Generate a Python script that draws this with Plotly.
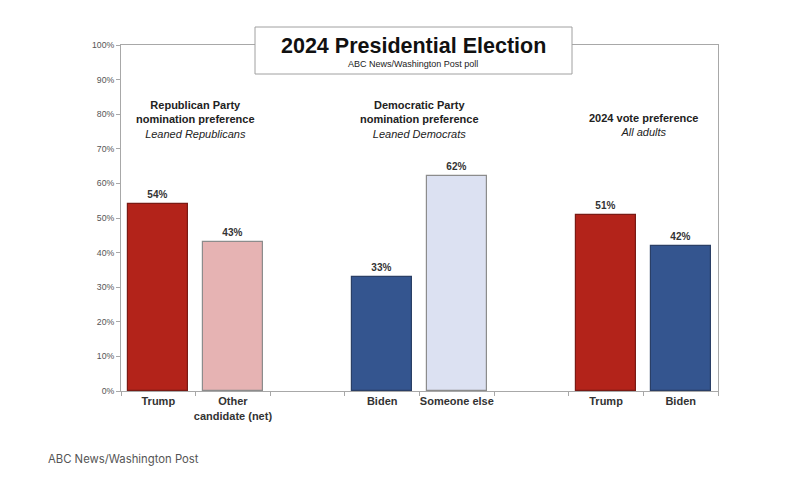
import plotly.graph_objects as go

# ---- data ----
group_titles = [
    "<b>Republican Party</b><br><b>nomination preference</b><br><i>Leaned Republicans</i>",
    "<b>Democratic Party</b><br><b>nomination preference</b><br><i>Leaned Democrats</i>",
    "<b>2024 vote preference</b><br><i>All adults</i>",
]
bar_labels = ["Trump", "Other<br>candidate (net)", "Biden", "Someone else", "Trump", "Biden"]
bar_values = [54, 43, 33, 62, 51, 42]
bar_group = [0, 0, 1, 1, 2, 2]
fill_colors = ["#B3231A", "#E6B3B3", "#34558F", "#DCE1F2", "#B3231A", "#34558F"]
line_colors = ["#7A1A14", "#8C8C8C", "#2A3F66", "#8C8C8C", "#7A1A14", "#2A3F66"]
y_ticks = [0, 10, 20, 30, 40, 50, 60, 70, 80, 90, 100]

# slot positions: two bars per group plus a spacer slot between groups
positions = []
count_in_group = {}
for g in bar_group:
    k = count_in_group.get(g, 0)
    positions.append(g * 3 + k)
    count_in_group[g] = k + 1
n_slots = 3 * len(group_titles) - 1

FONT = "Liberation Sans, Arial, sans-serif"

fig = go.Figure()
fig.add_trace(go.Bar(
    x=positions,
    y=bar_values,
    width=0.8,
    marker=dict(color=fill_colors, line=dict(color=line_colors, width=1.2)),
    text=[f"<b>{v}%</b>" for v in bar_values],
    textposition="outside",
    textfont=dict(family=FONT, size=10, color="#333333"),
    cliponaxis=False,
    hoverinfo="skip",
))

# group headings (centered on each group's pair of bars)
for gi, title in enumerate(group_titles):
    nlines = title.count("<br>") + 1
    fig.add_annotation(
        x=gi * 3 + 0.5, y=(85.0 if nlines == 3 else 81.3),
        xref="x", yref="y", text=title, showarrow=False,
        font=dict(family=FONT, size=11, color="#222222"),
        align="center", yanchor="top",
    )

# title box
fig.add_shape(type="rect", xref="paper", yref="paper",
              x0=(255 - 121) / 597, x1=(572 - 121) / 597,
              y0=(391 - 74) / 346, y1=(391 - 27) / 346,
              line=dict(color="#A0A0A0", width=1), fillcolor="white", layer="above")
fig.add_annotation(xref="paper", yref="paper", x=(413 - 121) / 597, y=(391 - 46) / 346,
                   xanchor="center", yanchor="middle",
                   text="<b>2024 Presidential Election</b>", showarrow=False,
                   font=dict(family=FONT, size=21.5, color="#111111"))
fig.add_annotation(xref="paper", yref="paper", x=(413 - 121) / 597, y=(391 - 64) / 346,
                   xanchor="center", yanchor="middle",
                   text="ABC News/Washington Post poll", showarrow=False,
                   font=dict(family=FONT, size=9, color="#222222"))

# footer source
fig.add_annotation(xref="paper", yref="paper", x=(46 - 121) / 597, y=(391 - 459) / 346,
                   xanchor="left", yanchor="middle", text="ABC News/Washington Post",
                   showarrow=False, font=dict(family="Inter, Noto Sans, sans-serif", size=11.3, color="#555555"))

fig.update_layout(
    width=800, height=487,
    margin=dict(l=121, r=82, t=45, b=96),
    paper_bgcolor="white", plot_bgcolor="white",
    showlegend=False,
    bargap=0,
    xaxis=dict(
        range=[-0.5, n_slots - 0.5],
        tickvals=positions,
        ticktext=[f"<b>{t}</b>" for t in bar_labels],
        tickfont=dict(family=FONT, size=11, color="#333333"),
        ticks="", showgrid=False, zeroline=False,
        showline=True, linecolor="#A8A8A8", linewidth=1, mirror=True,
        minor=dict(tickvals=[i - 0.5 for i in range(n_slots + 1)], ticks="outside",
                   ticklen=4, tickcolor="#A8A8A8", showgrid=False),
        fixedrange=True,
    ),
    yaxis=dict(
        range=[0, 100],
        tickvals=y_ticks,
        ticktext=[f"{v}%" for v in y_ticks],
        tickfont=dict(family=FONT, size=8.7, color="#555555"),
        ticks="outside", ticklen=4, tickcolor="#A8A8A8",
        showgrid=False, zeroline=False,
        showline=True, linecolor="#A8A8A8", linewidth=1, mirror=True,
        fixedrange=True,
    ),
)

fig.write_html("out.html")
